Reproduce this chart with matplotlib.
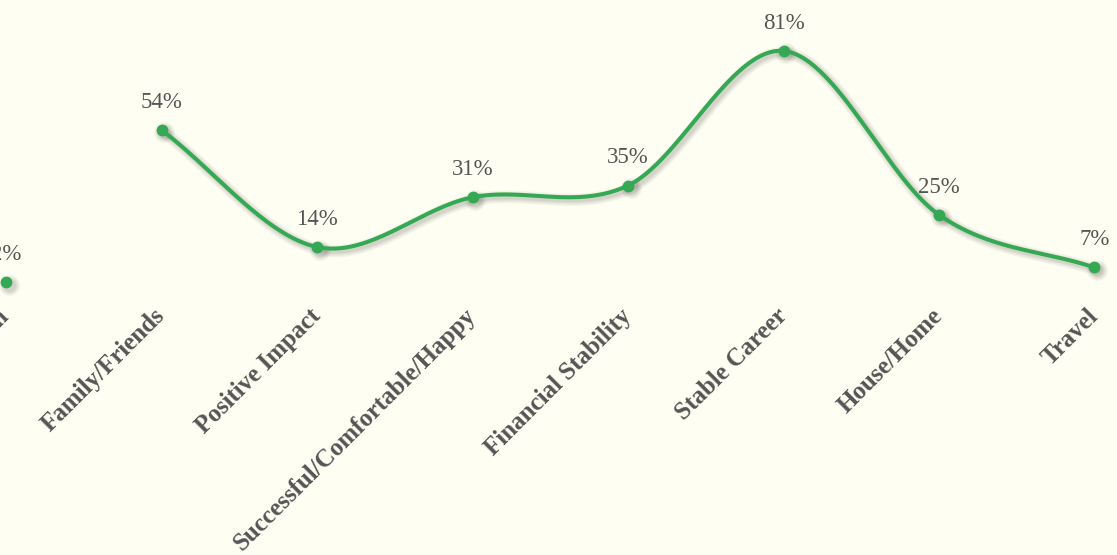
import numpy as np
import matplotlib.pyplot as plt
import matplotlib.transforms as mtransforms

# Chart data (left-most category is cut off in the original view)
categories = ['Education', 'Family/Friends', 'Positive Impact',
              'Successful/Comfortable/Happy', 'Financial Stability',
              'Stable Career', 'House/Home', 'Travel']
values = [2, 54, 14, 31, 35, 81, 25, 7]

GREEN = '#34a853'
BG = '#fefef2'
TEXT = '#555555'
FONT = 'Liberation Serif'


def catmull_rom(y, n=60):
    # uniform Catmull-Rom spline through y at integer x positions
    y = np.asarray(y, dtype=float)
    m = np.empty_like(y)
    m[1:-1] = (y[2:] - y[:-2]) / 2
    m[0] = y[1] - y[0]
    m[-1] = y[-1] - y[-2]
    t = np.linspace(0, 1, n)
    h00 = 2 * t**3 - 3 * t**2 + 1
    h10 = t**3 - 2 * t**2 + t
    h01 = -2 * t**3 + 3 * t**2
    h11 = t**3 - t**2
    xs, ys = [], []
    for i in range(len(y) - 1):
        xs.append(i + t)
        ys.append(h00 * y[i] + h10 * m[i] + h01 * y[i + 1] + h11 * m[i + 1])
    return np.concatenate(xs), np.concatenate(ys)


fig = plt.figure(figsize=(11.17, 5.55), dpi=100, facecolor=BG)
ax = fig.add_axes([0, 0.4595, 1, 0.5405])
ax.set_facecolor(BG)

sx, sy = catmull_rom(values[1:])
sx = sx + 1
x = np.arange(len(values))

# soft drop shadow: a few wide, faint copies shifted down-right
shadow_tr = mtransforms.offset_copy(ax.transData, fig=fig, x=2.5, y=-2.5, units='dots')
for w in [9, 7, 5, 3.5]:
    ax.plot(sx, sy, color='black', alpha=0.045, lw=w, solid_capstyle='round',
            transform=shadow_tr, zorder=2)
    ax.plot(x, values, linestyle='none', marker='o', ms=6 + w, mew=0,
            color='black', alpha=0.045, transform=shadow_tr, zorder=2)

# the first point is drawn on its own, the rest are joined by a smooth line
ax.plot(sx, sy, color=GREEN, lw=2.9, solid_capstyle='round', zorder=3)
ax.plot(x, values, linestyle='none', marker='o', ms=8.5, mew=0, color=GREEN, zorder=4)

for xi, v in zip(x, values):
    ax.annotate(f'{v}%', (xi, v), xytext=(0, 20), textcoords='offset points',
                ha='center', va='center', fontsize=16.5, color=TEXT,
                family=FONT)

ax.set_xlim(-0.0386, 7.1447)
ax.set_ylim(-4.1, 98.4)
ax.set_xticks(x)
ax.set_xticklabels(categories, rotation=45, ha='right', va='center',
                   rotation_mode='anchor', fontsize=18, fontweight='bold',
                   color=TEXT, family=FONT)
ax.tick_params(axis='x', length=0, pad=9)
ax.set_yticks([])
for s in ax.spines.values():
    s.set_visible(False)

fig.savefig('out.png', dpi=100, facecolor=BG)
